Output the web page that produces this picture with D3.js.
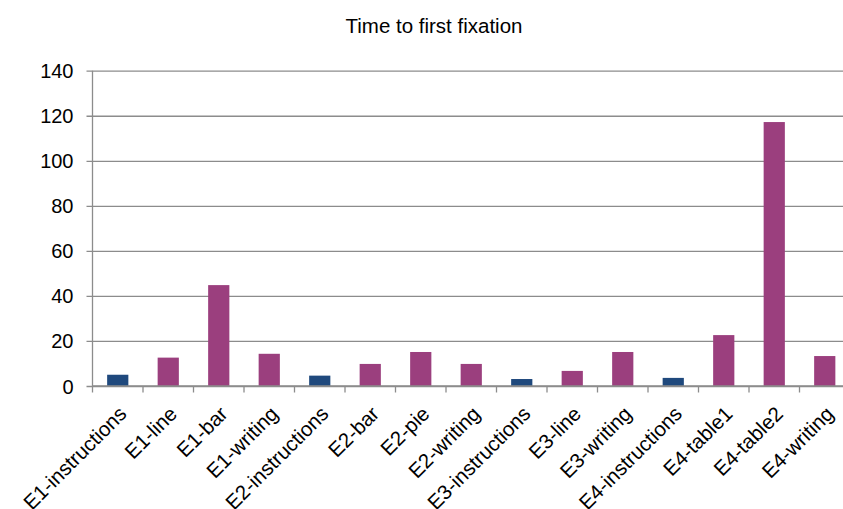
<!DOCTYPE html>
<html>
<head>
<meta charset="utf-8">
<script src="https://cdn.jsdelivr.net/npm/d3@7"></script>
<style>
  html, body { margin: 0; padding: 0; background: #fff; overflow: hidden; }
  svg { display: block; font-family: "Liberation Sans", Arial, sans-serif; }
</style>
</head>
<body>
<svg id="chart" width="843" height="509"></svg>
<script>
// Areas of interest, in display order
const categories = [
  "E1-instructions", "E1-line", "E1-bar", "E1-writing",
  "E2-instructions", "E2-bar", "E2-pie", "E2-writing",
  "E3-instructions", "E3-line", "E3-writing",
  "E4-instructions", "E4-table1", "E4-table2", "E4-writing"
];
// Time to first fixation per area
const values = [5, 12.6, 44.8, 14.3, 4.6, 9.8, 15.1, 9.8, 3.1, 6.7, 15.1, 3.6, 22.6, 117.2, 13.3];
// Area kind: instruction screens vs. content
const kinds = ["instr", "content", "content", "content", "instr", "content", "content", "content",
               "instr", "content", "content", "instr", "content", "content", "content"];
const yTicks = [0, 20, 40, 60, 80, 100, 120, 140];
const title = "Time to first fixation";

const colors = { instr: "#1F497D", content: "#9B3F7E" };
const gridColor = "#8C8C8C";

const svg = d3.select("#chart");
const plotLeft = 92.5, plotRight = 850, plotTop = 70.7, plotBottom = 386;

const x = d3.scaleBand().domain(categories).range([plotLeft, plotRight]).paddingInner(0.58).paddingOuter(0.29);
const xOuter = d3.scaleBand().domain(categories).range([plotLeft, plotRight]);
const y = d3.scaleLinear().domain([0, 140]).range([plotBottom, plotTop]);

// Horizontal gridlines with left tick marks
const yAxis = d3.axisLeft(y).tickValues(yTicks).tickSize(-(plotRight - plotLeft)).tickPadding(14).tickFormat(d3.format("d"));
const gy = svg.append("g").attr("transform", `translate(${plotLeft},0)`).call(yAxis);
gy.select(".domain").remove();
gy.selectAll(".tick line").attr("stroke", gridColor).attr("stroke-width", 1.3).attr("x1", -6);
gy.selectAll(".tick text").attr("fill", "#000").attr("font-size", "20px")
  .attr("font-family", "'Liberation Sans', Arial, sans-serif").attr("x", -19).attr("dy", "0.35em");

// Vertical axis line
svg.append("line").attr("x1", plotLeft).attr("x2", plotLeft).attr("y1", plotTop).attr("y2", plotBottom)
  .attr("stroke", gridColor).attr("stroke-width", 1.3);

// Bars
svg.append("g").selectAll("rect").data(categories).join("rect")
  .attr("x", d => x(d))
  .attr("width", x.bandwidth())
  .attr("y", (d, i) => y(values[i]))
  .attr("height", (d, i) => y(0) - y(values[i]))
  .attr("fill", (d, i) => colors[kinds[i]]);

// Category axis: ticks on band boundaries
const gx = svg.append("g").attr("transform", `translate(0,${plotBottom})`);
gx.append("line").attr("x1", plotLeft).attr("x2", plotRight).attr("stroke", gridColor).attr("stroke-width", 1.3);
gx.selectAll("line.tk").data(categories).join("line").attr("class", "tk")
  .attr("x1", d => xOuter(d)).attr("x2", d => xOuter(d)).attr("y1", 0).attr("y2", 6.5)
  .attr("stroke", gridColor).attr("stroke-width", 1.3);
gx.selectAll("text").data(categories).join("text")
  .attr("transform", d => `translate(${xOuter(d) + xOuter.bandwidth() / 2 + 5},${24}) rotate(-45)`)
  .attr("text-anchor", "end")
  .attr("dy", "0.35em")
  .attr("font-size", "20.5px")
  .attr("fill", "#000")
  .text(d => d);

// Title
svg.append("text").attr("x", 434).attr("y", 33).attr("text-anchor", "middle")
  .attr("font-size", "20.5px").attr("fill", "#000").text(title);
</script>
</body>
</html>
